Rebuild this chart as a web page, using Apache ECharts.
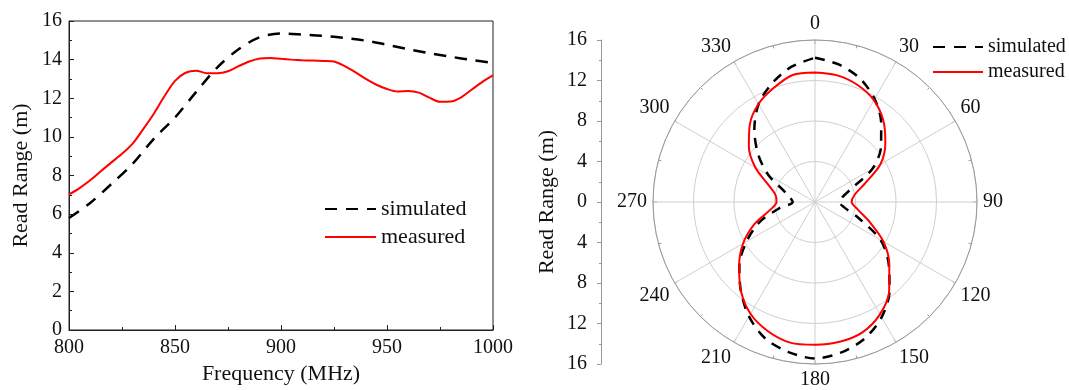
<!DOCTYPE html>
<html>
<head>
<meta charset="utf-8">
<script src="https://cdn.jsdelivr.net/npm/echarts@6/dist/echarts.min.js"></script>
<style>
  html, body { margin: 0; padding: 0; background: #fff; }
  #main { width: 1069px; height: 390px; }
</style>
</head>
<body>
<div id="main"></div>
<script>
// left plot: read range vs frequency
var simFreq = [800, 810, 820, 830, 840, 850, 860, 870, 880, 890, 900, 910, 920, 930, 940, 950, 960, 970, 980, 990, 1000];
var simRange = [5.8, 6.58, 7.56, 8.6, 9.9, 11.0, 12.33, 13.6, 14.54, 15.16, 15.35, 15.3, 15.23, 15.12, 14.98, 14.77, 14.54, 14.33, 14.15, 13.98, 13.83];
var measFreq = [800, 805, 810, 815, 820, 825, 830, 835, 840, 845, 850, 855, 860, 865, 870, 875, 880, 885, 890, 895, 900,
  905, 910, 915, 920, 925, 930, 935, 940, 945, 950, 955, 960, 965, 970, 975, 980, 985, 990, 995, 1000];
var measRange = [7.02, 7.35, 7.75, 8.22, 8.68, 9.12, 9.65, 10.4, 11.2, 12.1, 12.9, 13.32, 13.43, 13.3, 13.3, 13.4, 13.66, 13.9, 14.06, 14.09, 14.04,
  14.0, 13.97, 13.95, 13.93, 13.9, 13.66, 13.35, 13.0, 12.7, 12.48, 12.35, 12.38, 12.29, 12.03, 11.82, 11.83, 12.05, 12.45, 12.85, 13.18];

// right plot: read range vs angle (deg)
var angles = [0, 10, 20, 30, 40, 50, 60, 70, 80, 90, 100, 110, 120, 130, 140, 150, 160, 170, 180,
  190, 200, 210, 220, 230, 240, 250, 260, 270, 280, 290, 300, 310, 320, 330, 340, 350, 360];
var simPolar = [14.25, 13.77, 12.98, 11.76, 10.17, 8.51, 6.53, 3.8, 2.75, 2.4, 2.9, 4.55, 7.46, 9.5, 11.45, 13.15, 14.35, 15.08, 15.45,
  15.05, 14.35, 13.05, 11.4, 9.75, 7.8, 5.85, 3.6, 2.2, 2.5, 3.3, 5.32, 7.33, 9.32, 11.15, 12.45, 13.55, 14.25];
var measPolar = [12.8, 12.7, 12.3, 11.62, 10.5, 9.07, 7.46, 5.2, 3.96, 3.62, 4.3, 5.74, 7.8, 9.58, 11.4, 12.82, 13.7, 14.02, 14.1,
  14.1, 13.58, 12.75, 11.4, 9.78, 8.2, 6.35, 4.5, 3.8, 3.95, 4.88, 6.8, 8.53, 10.01, 11.17, 11.97, 12.74, 12.8];

var serif = 'Liberation Serif';
var ink = '#111';

function pairs(xs, ys) {
  return xs.map(function (x, i) { return [x, ys[i]]; });
}
// polar data is [radius, angle]
function polarPairs(rs, as) {
  return rs.map(function (r, i) { return [r, as[i]]; });
}

var chart = echarts.init(document.getElementById('main'));

// legend icon: just the line, no circle
var legendItem = { opacity: 0, color: 'transparent', borderWidth: 0 };

chart.setOption({
  backgroundColor: '#fff',
  animation: false,
  textStyle: { fontFamily: serif, color: ink },
  grid: [
    // left chart
    { left: 69, top: 21, width: 424, height: 312, show: true, borderColor: '#222', borderWidth: 1 },
    // vertical scale next to the polar plot
    { left: 601, top: 40, width: 1, height: 324 }
  ],
  legend: [
    {
      orient: 'vertical', left: 324, top: 198, padding: 0,
      itemWidth: 51, itemHeight: 14, itemGap: 6,
      itemStyle: legendItem,
      textStyle: { fontFamily: serif, fontSize: 22, color: ink },
      data: ['simulated', 'measured']
    },
    {
      orient: 'vertical', left: 932, top: 37, padding: 0,
      itemWidth: 50, itemHeight: 14, itemGap: 5,
      itemStyle: legendItem,
      textStyle: { fontFamily: serif, fontSize: 20, color: ink },
      data: ['simulated', 'measured']
    }
  ],
  xAxis: [
    {
      gridIndex: 0, type: 'value', min: 800, max: 1000, interval: 50,
      name: 'Frequency (MHz)', nameLocation: 'middle', nameGap: 33,
      nameTextStyle: { fontFamily: serif, fontSize: 22, color: ink },
      axisLine: { lineStyle: { color: '#222', width: 1 } },
      axisTick: { inside: true, length: 5, lineStyle: { color: '#222' } },
      minorTick: { show: true, splitNumber: 2, length: 3, lineStyle: { color: '#222' } },
      axisLabel: {
        fontFamily: serif, fontSize: 20, color: ink, margin: 8,
        formatter: function (v) { return String(v); }
      },
      splitLine: { show: false }
    },
    { gridIndex: 1, type: 'value', show: false }
  ],
  yAxis: [
    {
      gridIndex: 0, type: 'value', min: 0, max: 16, interval: 2,
      name: 'Read Range (m)', nameLocation: 'middle', nameGap: 37,
      nameTextStyle: { fontFamily: serif, fontSize: 22, color: ink },
      axisLine: { show: true, lineStyle: { color: '#222', width: 1 } },
      axisTick: { show: true, inside: true, length: 5, lineStyle: { color: '#222' } },
      minorTick: { show: true, splitNumber: 2, length: 3, lineStyle: { color: '#222' } },
      axisLabel: { fontFamily: serif, fontSize: 20, color: ink, margin: 7 },
      splitLine: { show: false }
    },
    {
      gridIndex: 1, type: 'value', min: -16, max: 16, interval: 4,
      name: 'Read Range (m)', nameLocation: 'middle', nameGap: 43,
      nameTextStyle: { fontFamily: serif, fontSize: 22, color: ink },
      axisLine: { show: true, lineStyle: { color: '#999', width: 1 } },
      axisTick: { show: true, inside: false, length: 4, lineStyle: { color: '#999' } },
      minorTick: { show: true, splitNumber: 2, length: 2, lineStyle: { color: '#999' } },
      axisLabel: {
        fontFamily: serif, fontSize: 20, color: ink, margin: 14,
        formatter: function (v) { return Math.abs(v); }
      },
      splitLine: { show: false }
    }
  ],
  polar: { center: [815, 202], radius: 162 },
  angleAxis: {
    type: 'value', min: 0, max: 360, interval: 30, startAngle: 90, clockwise: true,
    axisLine: { lineStyle: { color: '#999', width: 1 } },
    axisTick: { show: true, inside: true, length: 4, lineStyle: { color: '#999' } },
    minorTick: { show: true, splitNumber: 2, length: 3, lineStyle: { color: '#999' } },
    axisLabel: {
      fontFamily: serif, fontSize: 20, color: ink, margin: 6,
      formatter: function (v) { return v === 360 ? '' : v; }
    },
    splitLine: { show: true, lineStyle: { color: '#cfcfcf', width: 1 } }
  },
  radiusAxis: {
    min: 0, max: 16, interval: 4,
    axisLine: { show: false },
    axisTick: { show: false },
    axisLabel: { show: false },
    splitLine: { show: true, lineStyle: { color: '#cfcfcf', width: 1 } }
  },
  series: [
    {
      name: 'simulated', type: 'line', xAxisIndex: 0, yAxisIndex: 0,
      data: pairs(simFreq, simRange), smooth: 0.3, symbol: 'none',
      lineStyle: { color: '#000', width: 2.5, type: [12, 9] }, itemStyle: { color: '#000' }
    },
    {
      name: 'measured', type: 'line', xAxisIndex: 0, yAxisIndex: 0,
      data: pairs(measFreq, measRange), smooth: 0.3, symbol: 'none',
      lineStyle: { color: '#f00', width: 2 }, itemStyle: { color: '#f00' }
    },
    {
      name: 'simulated', type: 'line', coordinateSystem: 'polar',
      data: polarPairs(simPolar, angles), smooth: 0.3, symbol: 'none',
      lineStyle: { color: '#000', width: 2.5, type: [10, 8] }, itemStyle: { color: '#000' }
    },
    {
      name: 'measured', type: 'line', coordinateSystem: 'polar',
      data: polarPairs(measPolar, angles), smooth: 0.3, symbol: 'none',
      lineStyle: { color: '#f00', width: 2 }, itemStyle: { color: '#f00' }
    }
  ]
});
</script>
</body>
</html>
